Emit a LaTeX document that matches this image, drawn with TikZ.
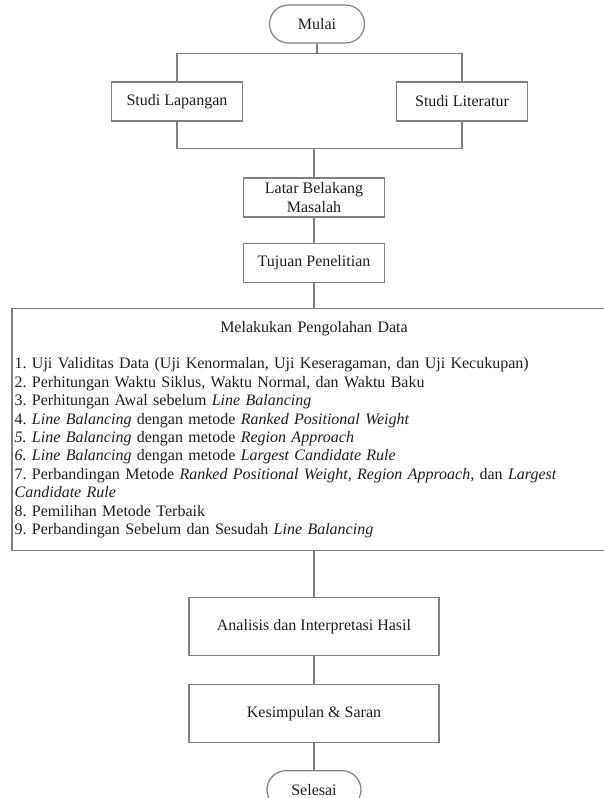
\documentclass[tikz,border=0pt]{standalone}
\usepackage{fontspec}
\setmainfont{Liberation Serif}
\usepackage{tikz}
\usetikzlibrary{positioning}
\definecolor{Ink}{HTML}{1E1E1E}
\definecolor{Frame}{HTML}{808080}
\frenchspacing

\begin{document}
\begin{tikzpicture}[x=0.75pt,y=-0.75pt,
  node distance=18.75pt,
  every node/.style={font=\fontsize{12pt}{13.8pt}\selectfont,text=Ink},
  term/.style={draw=Frame,line width=0.9pt,rounded corners=14.25pt,
    minimum width=71.25pt,minimum height=28.5pt,inner sep=1pt},
  proc/.style={draw=Frame,line width=0.9pt,align=center,inner sep=1pt,
    minimum height=29.25pt},
  bigproc/.style={draw=Frame,line width=0.9pt,align=left,text width=449pt,
    inner xsep=2pt,minimum height=181.5pt},
  link/.style={draw=Frame,line width=0.9pt}]
\useasboundingbox (0,0) rectangle (603,798);
\node[term] (mulai) at (317,24) {Mulai};
\node[proc,minimum width=98.25pt] (lap) at (177,101.5) {Studi Lapangan};
\node[proc,minimum width=98.25pt] (lit) at (462,101.5) {Studi Literatur};
\node[proc,minimum width=106pt] (latar) at (314,197.5) {Latar Belakang\\Masalah};
\node[proc,minimum width=106pt,below=of latar] (tujuan) {Tujuan Penelitian};
\node[bigproc,below=of tujuan] (olah) {{\centering Melakukan Pengolahan Data\par}\vspace{13.8pt}
1. Uji Validitas Data (Uji Kenormalan, Uji Keseragaman, dan Uji Kecukupan)\\
2. Perhitungan Waktu Siklus, Waktu Normal, dan Waktu Baku\\
3. Perhitungan Awal sebelum \textit{Line Balancing}\\
4. \textit{Line Balancing} dengan metode \textit{Ranked Positional Weight}\\
\textit{5. Line Balancing} dengan metode \textit{Region Approach}\\
\textit{6. Line Balancing} dengan metode \textit{Largest Candidate Rule}\\
7. Perbandingan Metode \textit{Ranked Positional Weight, Region Approach,} dan \textit{Largest}\\
\textit{Candidate Rule}\\
8. Pemilihan Metode Terbaik\\
9. Perbandingan Sebelum dan Sesudah \textit{Line Balancing}};
\node[proc,minimum width=187.5pt,minimum height=43.5pt,below=34.5pt of olah] (analisis) {Analisis dan Interpretasi Hasil};
\node[proc,minimum width=187.5pt,minimum height=43.5pt,below=21pt of analisis] (simpul) {Kesimpulan \& Saran};
\node[term,minimum width=70.5pt,below=20pt of simpul] (selesai) {Selesai};
% cabang dan gabungan
\coordinate[below=7.5pt of mulai] (split);
\coordinate[above=21.75pt of latar] (join);
\draw[link] (mulai) -- (split);
\draw[link] (lap) |- (split) -| (lit);
\draw[link] (lap) |- (join) -| (lit);
\draw[link] (join) -- (latar);
\foreach \a/\b in {latar/tujuan,tujuan/olah,olah/analisis,analisis/simpul,simpul/selesai}
  \draw[link] (\a) -- (\b);
\end{tikzpicture}
\end{document}
